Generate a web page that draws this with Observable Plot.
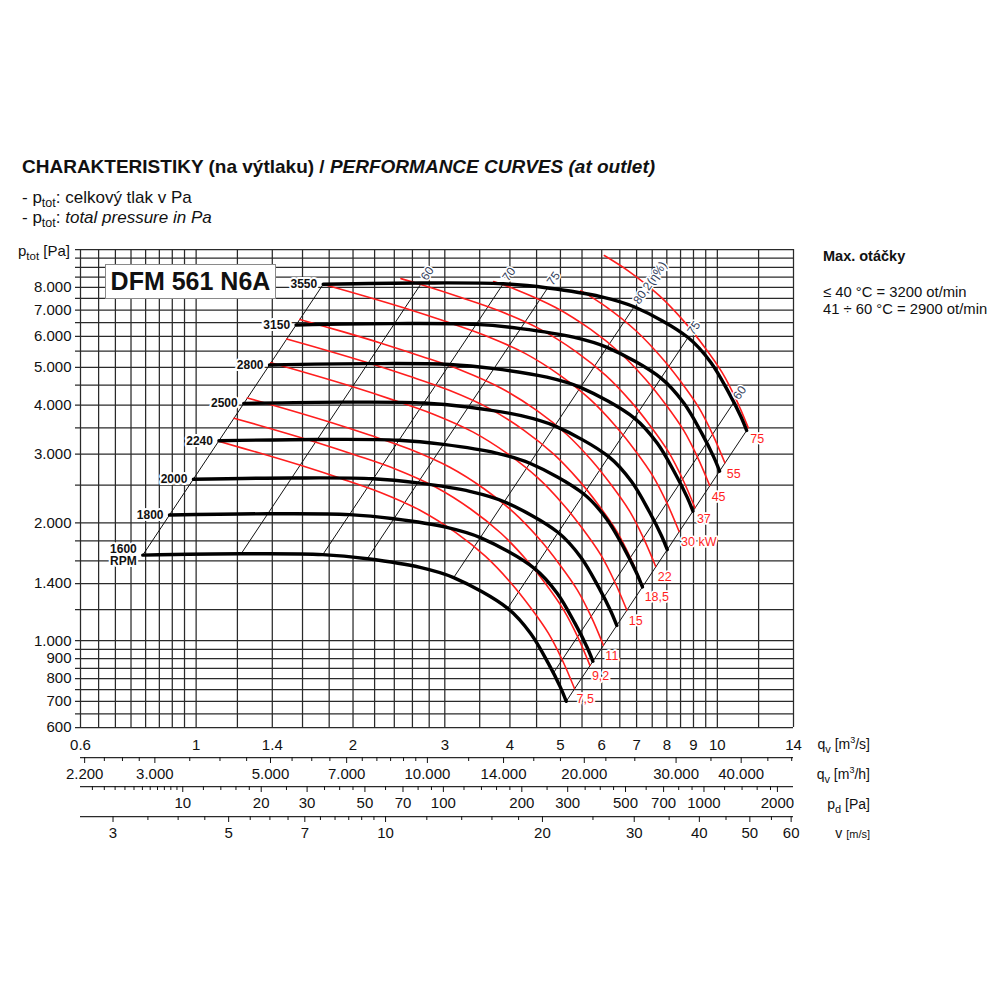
<!DOCTYPE html>
<html><head><meta charset="utf-8">
<script src="https://cdn.jsdelivr.net/npm/d3@7"></script>
<script src="https://cdn.jsdelivr.net/npm/@observablehq/plot@0.6"></script>
<style>
body{margin:0;background:#fff;font-family:"Liberation Sans",Arial,sans-serif;color:#111}
#page{position:relative;width:1000px;height:1000px;overflow:hidden}
.abs{position:absolute;white-space:nowrap;line-height:1}
sub,sup{line-height:0}
</style></head><body><div id="page">
<div id="chart" style="position:absolute;left:0;top:230px"></div>
<div class="abs" style="left:22px;top:157px;font-size:19px;font-weight:bold">CHARAKTERISTIKY (na výtlaku) / <i>PERFORMANCE CURVES (at outlet)</i></div>
<div class="abs" style="left:22px;top:189px;font-size:17px">- p<sub style="font-size:12.5px">tot</sub>: celkový tlak v Pa</div>
<div class="abs" style="left:22px;top:209px;font-size:17px">- p<sub style="font-size:12.5px">tot</sub>: <i>total pressure in Pa</i></div>
<div class="abs" style="left:18px;top:243px;font-size:15px">p<sub style="font-size:11.5px">tot</sub> [Pa]</div>
<div class="abs" style="left:105px;top:264px;width:169px;height:33px;border:1.5px solid #8a8a8a;background:#fff;font-size:25px;font-weight:bold;line-height:33px;text-align:center">DFM 561 N6A</div>
<div class="abs" style="left:823px;top:249px;font-size:14.5px;font-weight:bold">Max. otáčky</div>
<div class="abs" style="left:823px;top:285px;font-size:14.8px">≤ 40 °C = 3200 ot/min</div>
<div class="abs" style="left:823px;top:302px;font-size:14.8px">41 ÷ 60 °C = 2900 ot/min</div>
<div class="abs" style="right:130px;top:737px;font-size:14px;text-align:right">q<sub style="font-size:11px">v</sub> [m<sup style="font-size:9px">3</sup>/s]</div>
<div class="abs" style="right:130px;top:767px;font-size:14px;text-align:right">q<sub style="font-size:11px">v</sub> [m<sup style="font-size:9px">3</sup>/h]</div>
<div class="abs" style="right:130px;top:797px;font-size:14px;text-align:right">p<sub style="font-size:11px">d</sub> [Pa]</div>
<div class="abs" style="right:130px;top:826px;font-size:14px;text-align:right">v <span style="font-size:11px">[m/s]</span></div>
</div>
<script>
// ---------- grid & tick values ----------
const xGrid = [0.6,0.65,0.7,0.75,0.8,0.85,0.9,0.95,1,1.2,1.4,1.6,1.8,2,2.2,2.4,2.6,2.8,3,3.5,4,4.5,5,5.5,6,6.5,7,7.5,8,8.5,9,9.5,10,12,14];
const yGrid = [600,650,700,750,800,850,900,950,1000,1200,1400,1600,1800,2000,2500,3000,3500,4000,4500,5000,5500,6000,6500,7000,7500,8000,8500,9000,9500,10000];
const yLabels = [600,700,800,900,1000,1400,2000,3000,4000,5000,6000,7000,8000];
const qLabels = [0.6,1,1.4,2,3,4,5,6,7,8,9,10,14];
const mhLabels = [2200,3000,5000,7000,10000,14000,20000,30000,40000];
const mhMinor = [2400,2600,2800,3500,4000,4500,5500,6000,6500,7500,8000,8500,9000,9500,12000,16000,18000,22000,25000,35000,45000,50000];
const pdLabels = [10,20,30,50,70,100,200,300,500,700,1000,2000];
const pdMinor = [4.5,5,5.5,6,6.5,7,7.5,8,8.5,9,9.5,12,14,16,18,25,35,40,45,60,80,90,120,140,160,180,250,350,400,450,600,800,900,1200,1400,1600,1800];
const vLabels = [3,5,7,10,20,30,40,50,60];
const vMinor = [3.5,4,4.5,5.5,6,6.5,7.5,8,8.5,9,9.5,12,14,16,18,25,35,45,55];

// ---------- fan curves (q m3/s, p Pa) ----------
const rpm = [1600,1800,2000,2240,2500,2800,3150,3550];
const q1600 = [0.79,1.22,1.75,2.13,2.69,3.12,3.96,4.38,4.74,5.00,5.13];
const p1600 = [1655,1668,1660,1620,1540,1450,1210,1045,875,760,700];
const q1800 = [0.889,1.373,1.969,2.396,3.026,3.510,4.455,4.928,5.333,5.625,5.771];
const p1800 = [2095,2111,2101,2050,1949,1835,1531,1323,1107,962,886];
const q2000 = [0.988,1.525,2.188,2.663,3.363,3.900,4.950,5.475,5.925,6.25,6.413];
const p2000 = [2586,2606,2594,2531,2406,2266,1891,1633,1367,1188,1094];
const q2240 = [1.106,1.708,2.450,2.982,3.766,4.368,5.544,6.132,6.636,7.0,7.182];
const p2240 = [3244,3269,3254,3175,3018,2842,2372,2048,1715,1490,1372];
const q2500 = [1.234,1.906,2.734,3.328,4.203,4.875,6.188,6.844,7.406,7.813,8.016];
const p2500 = [4041,4072,4053,3955,3760,3540,2954,2551,2136,1855,1709];
const q2800 = [1.383,2.135,3.063,3.728,4.708,5.46,6.93,7.665,8.295,8.75,8.978];
const p2800 = [5068,5108,5084,4961,4716,4441,3706,3200,2680,2328,2144];
const q3150 = [1.555,2.402,3.445,4.193,5.296,6.143,7.796,8.623,9.332,9.844,10.1];
const p3150 = [6415,6465,6434,6279,5969,5620,4690,4050,3392,2946,2713];
const q3550 = [1.753,2.707,3.883,4.726,5.968,6.923,8.786,9.718,10.517,11.094,11.382];
const p3550 = [8148,8212,8172,7975,7581,7138,5957,5145,4308,3741,3446];

// ---------- motor power curves (kW) ----------
const kwLabels = ["7,5","9,2","11","15","18,5","22","30 kW","37","45","55","75"];
const qKw7_5 = [1.104,1.329,1.586,1.893,2.258,2.694,3.145,3.592,4.010,4.381,4.743,5.046,5.320];
const pKw7_5 = [3233,3013,2807,2600,2394,2153,1892,1642,1409,1216,1044,890,755];
const qKw9_2 = [1.182,1.423,1.698,2.026,2.417,2.884,3.367,3.845,4.293,4.690,5.077,5.402,5.695];
const pKw9_2 = [3705,3453,3217,2980,2744,2467,2168,1882,1615,1394,1196,1020,865];
const qKw11 = [1.254,1.510,1.802,2.151,2.565,3.061,3.573,4.081,4.556,4.977,5.389,5.733,6.044];
const pKw11 = [4173,3889,3623,3356,3090,2779,2442,2119,1819,1569,1347,1149,974];
const qKw15 = [1.391,1.674,1.998,2.385,2.845,3.394,3.962,4.526,5.052,5.520,5.976,6.357,6.703];
const pKw15 = [5132,4783,4456,4127,3800,3418,3003,2607,2237,1930,1657,1413,1198];
const qKw18_5 = [1.492,1.796,2.143,2.558,3.051,3.640,4.250,4.854,5.419,5.920,6.409,6.819,7.189];
const pKw18_5 = [5903,5502,5126,4748,4371,3931,3455,2998,2573,2220,1906,1625,1379];
const qKw22 = [1.581,1.903,2.271,2.710,3.233,3.857,4.503,5.143,5.741,6.272,6.791,7.224,7.617];
const pKw22 = [6627,6176,5754,5329,4907,4413,3878,3366,2888,2492,2140,1824,1548];
const qKw30 = [1.752,2.110,2.518,3.005,3.584,4.276,4.992,5.702,6.365,6.954,7.529,8.010,8.445];
const pKw30 = [8147,7592,7073,6551,6032,5425,4767,4138,3550,3064,2631,2243,1902];
const qKw37 = [2.472,2.700,3.223,3.844,4.586,5.354,6.115,6.827,7.458,8.075,8.590,9.057];
const pKw37 = [8425,8135,7535,6938,6240,5483,4759,4084,3524,3026,2579,2188];
const qKw45 = [3.723,4.103,4.895,5.715,6.527,7.287,7.961,8.619,9.169,9.667];
const pKw45 = [8284,7905,7109,6247,5422,4652,4015,3447,2939,2493];
const qKw55 = [5.473,6.111,6.979,7.791,8.512,9.216,9.804,10.337];
const pKw55 = [7849,7143,6199,5319,4591,3941,3360,2850];
const qKw75 = [6.069,6.776,7.739,8.639,9.438,10.218,10.871,11.461];
const pKw75 = [9650,8782,7622,6540,5644,4846,4131,3504];

// ---------- efficiency lines (from 1600 curve to 3550 curve) ----------
const etaLabels = ["", "60", "70", "75", "80,2(η%)", "75", "60", ""];
const etaQ1 = [0.79,1.22,1.75,2.13,3.12,3.96,4.85,5.13];
const etaP1 = [1655,1668,1660,1620,1450,1210,828,700];
const etaQ2 = [1.753,2.707,3.883,4.726,6.923,8.786,10.76,11.382];
const etaP2 = [8148,8212,8172,7975,7138,5957,4070,3446];

// ---------- build tables ----------
const fanQ = [q1600,q1800,q2000,q2240,q2500,q2800,q3150,q3550];
const fanP = [p1600,p1800,p2000,p2240,p2500,p2800,p3150,p3550];
const fanRows = rpm.flatMap((n,i) => fanQ[i].map((q,j) => ({n, q, p: fanP[i][j]})));
const fanStart = rpm.map((n,i) => ({q: fanQ[i][0], p: fanP[i][0], t: n === 1600 ? "1600\nRPM" : String(n)}));

const kwQ = [qKw7_5,qKw9_2,qKw11,qKw15,qKw18_5,qKw22,qKw30,qKw37,qKw45,qKw55,qKw75];
const kwP = [pKw7_5,pKw9_2,pKw11,pKw15,pKw18_5,pKw22,pKw30,pKw37,pKw45,pKw55,pKw75];
const kwRows = kwLabels.flatMap((k,i) => kwQ[i].map((q,j) => ({k, q, p: kwP[i][j]})));
const kwEnd = kwLabels.map((k,i) => ({k, q: kwQ[i][kwQ[i].length-1], p: kwP[i][kwP[i].length-1]}));

const etaRows = etaLabels.flatMap((t,i) => [{i, q: etaQ1[i], p: etaP1[i]}, {i, q: etaQ2[i], p: etaP2[i]}]);
const etaTop = etaLabels.map((t,i) => ({t, q: etaQ2[i], p: etaP2[i]})).filter(d => d.t);

const dotFmt = d => d3.format(",")(d).replace(/,/g, ".");
const A = 0.2309;              // outlet area m2 (v = q / A)
const rho = 1.2;
const fromMh = h => h / 3600;
const fromV = v => v * A;
const fromPd = pd => A * Math.sqrt(2 * pd / rho);

const grid = "#2a2a2a";
const gw = 1.25;
const red = "#ff1e1e";
const font = "'Liberation Sans', Arial, sans-serif";
const pdMain = pdLabels.slice(0, -1), pdLast = pdLabels.slice(-1);

const chart = Plot.plot({
  width: 1000, height: 622,
  marginLeft: 80, marginRight: 207, marginTop: 19, marginBottom: 125,
  x: {type: "log", domain: [0.6, 14]},
  y: {type: "log", domain: [600, 10000]},
  style: {fontFamily: font, color: "#111", background: "transparent", overflow: "visible"},
  marks: [
    Plot.ruleX(xGrid, {stroke: grid, strokeWidth: gw}),
    Plot.ruleY(yGrid, {stroke: grid, strokeWidth: gw, insetLeft: -5}),
    Plot.axisY(yLabels, {tickSize: 0, tickPadding: 9, text: (d, i) => dotFmt(yLabels[i]), fontSize: 15, label: null}),
    Plot.axisX(qLabels, {tickSize: 0, tickPadding: 12, text: (d, i) => String(qLabels[i]), fontSize: 15, label: null}),
    // m3/h axis
    Plot.ruleY([600], {dy: 30, stroke: grid, strokeWidth: gw}),
    Plot.axisX(mhMinor.map(fromMh), {dy: 30, tickSize: 4, text: () => "", label: null}),
    Plot.axisX(mhLabels.map(fromMh), {dy: 30, tickSize: 6, tickPadding: 5, text: (d, i) => dotFmt(mhLabels[i]), fontSize: 15, label: null}),
    // pd axis
    Plot.ruleY([600], {dy: 59, stroke: grid, strokeWidth: gw}),
    Plot.axisX(pdMinor.map(fromPd), {dy: 59, tickSize: 4, text: () => "", label: null}),
    Plot.axisX(pdMain.map(fromPd), {dy: 59, tickSize: 6, tickPadding: 5, text: (d, i) => String(pdMain[i]), fontSize: 15, label: null}),
    Plot.axisX(pdLast.map(fromPd), {dy: 59, dx: -5, tickSize: 6, tickPadding: 5, text: (d, i) => String(pdLast[i]), fontSize: 15, label: null}),
    // v axis
    Plot.ruleY([600], {dy: 89, stroke: grid, strokeWidth: gw}),
    Plot.axisX(vMinor.map(fromV), {dy: 89, tickSize: 4, text: () => "", label: null}),
    Plot.axisX(vLabels.map(fromV), {dy: 89, tickSize: 6, tickPadding: 5, text: (d, i) => String(vLabels[i]), fontSize: 15, label: null}),
    // efficiency lines
    Plot.line(etaRows, {x: "q", y: "p", z: "i", stroke: "#111", strokeWidth: 1}),
    // power curves
    Plot.line(kwRows, {x: "q", y: "p", z: "k", stroke: red, strokeWidth: 1.6, curve: "catmull-rom"}),
    // fan curves
    Plot.line(fanRows, {x: "q", y: "p", z: "n", stroke: "#000", strokeWidth: 3.4, curve: "catmull-rom"}),
    // labels
    Plot.text(fanStart, {x: "q", y: "p", text: "t", textAnchor: "end", dx: -6, dy: 0, fontSize: 12, fontWeight: "bold", fill: "#111", stroke: "white", strokeWidth: 4}),
    Plot.text(kwEnd, {x: "q", y: "p", text: "k", textAnchor: "start", dx: 2, dy: 11, fontSize: 12.5, fill: red, stroke: "white", strokeWidth: 3.5}),
    Plot.text(etaTop, {x: "q", y: "p", text: "t", textAnchor: "start", rotate: -55, dx: 2, dy: -4, fontSize: 12, fill: "#33415c", stroke: "white", strokeWidth: 3})
  ]
});
document.getElementById("chart").appendChild(chart);
</script>
</body></html>
